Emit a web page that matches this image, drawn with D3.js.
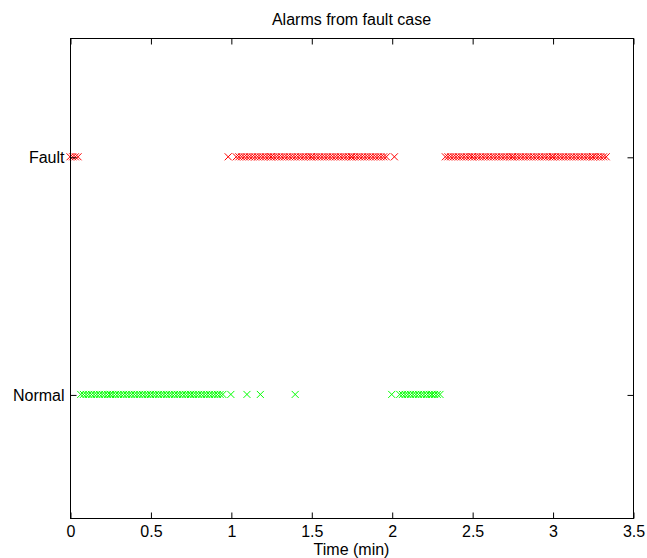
<!DOCTYPE html>
<html>
<head>
<meta charset="utf-8">
<script src="https://cdn.jsdelivr.net/npm/d3@7"></script>
<style>
  html, body { margin: 0; padding: 0; background: #fff; }
  svg { display: block; font-family: "Liberation Sans", Arial, sans-serif; }
</style>
</head>
<body>
<div id="chart"></div>
<script>
// ---- Data (alarm times in seconds) ----
const categories = ["Normal", "Fault"];
const faultSeconds = [
  0, 1, 2, 3,
  59,
  62, 63, 64, 65, 66, 67, 68, 69, 70, 71, 72, 73, 74, 75, 75, 76, 77, 78, 79,
  80, 81, 82, 83, 84, 85, 86, 87, 88, 89, 90, 90, 91, 92, 93, 94, 95, 96, 97, 98, 99,
  100, 101, 102, 103, 104, 105, 105, 106, 107, 108, 109, 110, 111, 112, 113, 114, 115, 116, 117, 118,
  121,
  140, 141, 142, 143, 144, 145, 146, 147, 148, 149, 150, 150, 151, 152, 153, 154, 155, 156, 157, 158, 159,
  160, 161, 162, 163, 164, 165, 165, 166, 167, 168, 169, 170, 171, 172, 173, 174, 175, 176, 177, 178, 179,
  180, 180, 181, 182, 183, 184, 185, 186, 187, 188, 189, 190, 191, 192, 193, 194, 195, 195, 196, 197, 198, 199, 200
];
const normalSeconds = [
  4, 5, 6, 7, 8, 9, 10, 11, 12, 13, 14, 15, 15, 16, 17, 18, 19, 20, 21, 22, 23, 24, 25, 26, 27, 28, 29,
  30, 30, 31, 32, 33, 34, 35, 36, 37, 38, 39, 40, 41, 42, 43, 44, 45, 45, 46, 47, 48, 49, 50, 51, 52, 53, 54, 55, 56, 57,
  60, 66, 71, 84,
  120, 123, 124, 125, 126, 127, 128, 129, 130, 131, 132, 133, 134, 135, 135, 136, 137, 138
];
const xTicks = [0, 0.5, 1, 1.5, 2, 2.5, 3, 3.5];
const yTickValues = [1, 2];
const yTickLabels = ["Normal", "Fault"];
const titleText = "Alarms from fault case";
const xLabelText = "Time (min)";

// ---- Layout ----
const W = 647, H = 558;
const margin = { left: 70, right: 14, top: 38, bottom: 40 };
const iw = W - margin.left - margin.right;
const ih = H - margin.top - margin.bottom;
const tickLen = 6;
const fontSize = 16;

const svg = d3.select("#chart").append("svg")
  .attr("width", W).attr("height", H);

const x = d3.scaleLinear().domain([0, 3.5]).range([margin.left, margin.left + iw]);
const y = d3.scaleLinear().domain([0.48, 2.5]).range([margin.top + ih, margin.top]);

const series = [
  { level: 2, color: "#ff0000", times: faultSeconds },
  { level: 1, color: "#00ff00", times: normalSeconds }
];

const r = 3.5;
series.forEach(s => {
  const g = svg.append("g").attr("stroke", s.color).attr("stroke-width", 1).attr("fill", "none");
  g.selectAll("path").data(s.times).join("path")
    .attr("d", t => {
      const cx = x(t / 60), cy = y(s.level);
      return `M${cx - r},${cy - r}L${cx + r},${cy + r}M${cx - r},${cy + r}L${cx + r},${cy - r}`;
    });
});

// ---- Axes (MATLAB-style box with inward ticks) ----
svg.append("rect")
  .attr("x", margin.left + 0.5).attr("y", margin.top + 0.5)
  .attr("width", iw).attr("height", ih)
  .attr("fill", "none").attr("stroke", "#000").attr("stroke-width", 1);

const bottomAxis = d3.axisBottom(x).tickValues(xTicks).tickSize(-tickLen).tickPadding(tickLen + 1)
  .tickFormat(d => String(d));
const gb = svg.append("g").attr("transform", `translate(0.5,${margin.top + ih + 0.5})`).call(bottomAxis);
gb.select(".domain").remove();
gb.selectAll("text").attr("font-size", fontSize).attr("font-family", "Liberation Sans, Arial, sans-serif").attr("fill", "#000");

const topAxis = d3.axisTop(x).tickValues(xTicks).tickSize(-tickLen).tickFormat("");
const gt = svg.append("g").attr("transform", `translate(0.5,${margin.top + 0.5})`).call(topAxis);
gt.select(".domain").remove();

const leftAxis = d3.axisLeft(y).tickValues(yTickValues).tickSize(-tickLen).tickPadding(tickLen)
  .tickFormat((d, i) => yTickLabels[i]);
const gl = svg.append("g").attr("transform", `translate(${margin.left + 0.5},0.5)`).call(leftAxis);
gl.select(".domain").remove();
gl.selectAll("text").attr("font-size", fontSize).attr("font-family", "Liberation Sans, Arial, sans-serif").attr("fill", "#000");

const rightAxis = d3.axisRight(y).tickValues(yTickValues).tickSize(-tickLen).tickFormat("");
const gr = svg.append("g").attr("transform", `translate(${margin.left + iw + 0.5},0.5)`).call(rightAxis);
gr.select(".domain").remove();

svg.selectAll(".tick line").attr("stroke", "#000");

// ---- Title and label ----
svg.append("text")
  .attr("x", margin.left + iw / 2).attr("y", 25)
  .attr("text-anchor", "middle").attr("font-size", fontSize).attr("fill", "#000")
  .text(titleText);
svg.append("text")
  .attr("x", margin.left + iw / 2).attr("y", 555)
  .attr("text-anchor", "middle").attr("font-size", fontSize).attr("fill", "#000")
  .text(xLabelText);
</script>
</body>
</html>
